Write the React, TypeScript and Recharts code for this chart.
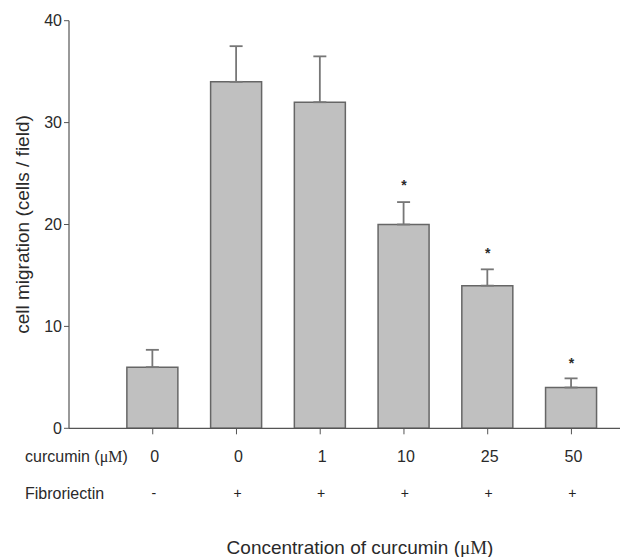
import React from 'react';
import { ComposedChart, Bar, ErrorBar, Scatter, XAxis, YAxis } from 'recharts';

const positions = [1, 2, 3, 4, 5, 6];
const curcuminLabels = ['0', '0', '1', '10', '25', '50'];
const fibronectinLabels = ['-', '+', '+', '+', '+', '+'];
const migration = [6, 34, 32, 20, 14, 4];
const sem = [1.7, 3.5, 4.5, 2.2, 1.6, 0.9];
const starPositions = [4, 5, 6];
const starValues = [24.2, 17.5, 6.7];
const yTicks = [0, 10, 20, 30, 40];

const data = positions.map((p, i) => ({
  x: p,
  value: migration[i],
  err: [0, sem[i]],
  conc: curcuminLabels[i],
  fib: fibronectinLabels[i],
}));

const starData = starPositions.map((p, i) => ({ x: p, star: starValues[i] }));

const FONT = '"Liberation Sans", Arial, Helvetica, sans-serif';
const TEXT = '#2a2a2a';

const XTick = (props: any) => {
  const { x, y, payload, index } = props;
  const i = positions.indexOf(payload.value);
  return (
    <g>
      {index === 0 && (
        <>
          <text x={25} y={y + 20} fontSize={16} fill={TEXT} fontFamily={FONT} dominantBaseline="central">
            curcumin (<tspan fontFamily='"Liberation Serif", serif'>μM</tspan>)
          </text>
          <text x={25} y={y + 57} fontSize={16} fill={TEXT} fontFamily={FONT} dominantBaseline="central">
            Fibroriectin
          </text>
        </>
      )}
      <text x={x + 2} y={y + 20} fontSize={16} fill={TEXT} fontFamily={FONT} textAnchor="middle" dominantBaseline="central">
        {curcuminLabels[i]}
      </text>
      <text x={x + 1} y={y + 57} fontSize={14} fill="#222" fontFamily={FONT} textAnchor="middle" dominantBaseline="central">
        {fibronectinLabels[i]}
      </text>
    </g>
  );
};

const StarShape = (props: any) => {
  const { cx, cy } = props;
  return (
    <text x={cx} y={cy + 8} fontSize={14} fontWeight="bold" fill={TEXT} fontFamily={FONT} textAnchor="middle">
      *
    </text>
  );
};

const YLabel = (props: any) => {
  const vb = props.viewBox || { x: 0, y: 0, width: 69, height: 408 };
  const cx = 22;
  const cy = vb.y + vb.height / 2;
  return (
    <text
      x={cx}
      y={cy}
      transform={`rotate(-90, ${cx}, ${cy})`}
      textAnchor="middle"
      dominantBaseline="central"
      fontSize={19}
      fill={TEXT}
      fontFamily={FONT}
    >
      cell migration (cells / field)
    </text>
  );
};

const XLabel = (props: any) => {
  return (
    <text x={360} y={547} textAnchor="middle" dominantBaseline="central" fontSize={19} fill={TEXT} fontFamily={FONT}>
      Concentration of curcumin (<tspan fontFamily='"Liberation Serif", serif'>μM</tspan>)
    </text>
  );
};

export default function App() {
  return (
    <div style={{ position: 'absolute', left: 0, top: 0, width: 622, height: 557, background: '#fff' }}>
      <ComposedChart
        width={622}
        height={557}
        data={data}
        margin={{ top: 20.7, right: 2, bottom: 0, left: 0 }}
      >
        <XAxis
          dataKey="x"
          type="number"
          domain={[0, 6.58]}
          ticks={positions}
          allowDataOverflow
          height={128.7}
          tickSize={6}
          tickLine={{ stroke: '#555' }}
          axisLine={{ stroke: '#555', strokeWidth: 1.2 }}
          tick={<XTick />}
          interval={0}
          label={{ content: <XLabel /> }}
        />
        <YAxis
          type="number"
          domain={[0, 40]}
          ticks={yTicks}
          width={69}
          tickSize={5}
          tickMargin={2}
          tickLine={{ stroke: '#555' }}
          axisLine={{ stroke: '#555', strokeWidth: 1.2 }}
          tick={{ fontSize: 16, fill: TEXT, fontFamily: FONT }}
          label={{ content: <YLabel /> }}
        />
        <Bar dataKey="value" barSize={51} fill="#c0c0c0" stroke="#666" strokeWidth={1.5} isAnimationActive={false}>
          <ErrorBar dataKey="err" direction="y" width={6.5} stroke="#777" strokeWidth={1.8} />
        </Bar>
        <Scatter data={starData} dataKey="star" shape={<StarShape />} isAnimationActive={false} />
      </ComposedChart>
    </div>
  );
}
